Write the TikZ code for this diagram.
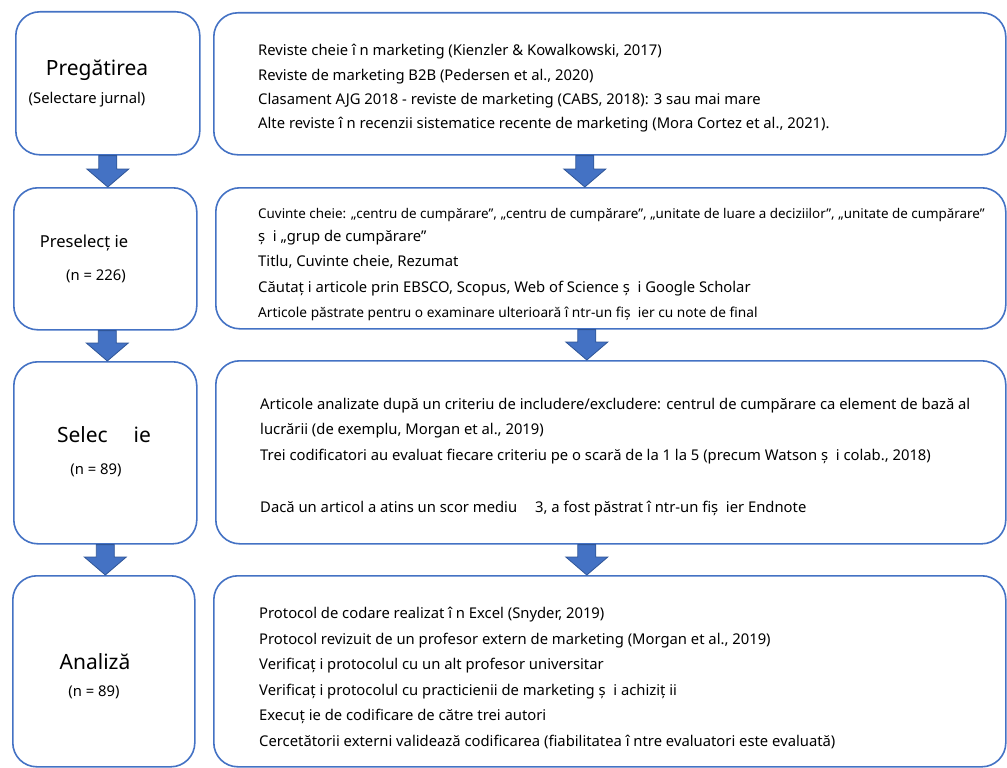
\documentclass[tikz,border=0pt]{standalone}
\usepackage{fontspec}
\setmainfont{Noto Sans}
\usetikzlibrary{calc}
\definecolor{boxblue}{HTML}{4472C4}
\definecolor{arrowline}{HTML}{2F5597}
\begin{document}
\begin{tikzpicture}[x=1pt,y=-1pt,
  box/.style={draw=boxblue, line width=1.6pt, rounded corners=24pt, fill=white, anchor=north west, inner sep=0pt},
  rtext/.style={anchor=west, align=left, inner sep=0pt, text=black},
  ltext/.style={inner sep=0pt, text=black},
  blockarrow/.style={draw=arrowline, fill=boxblue, line width=0.8pt,
    to path={let \p1=(\tikztostart), \p2=(\tikztotarget) in
      (\x1-9pt,\y1) -- (\x1+9pt,\y1) -- (\x1+9pt,\y2+18pt) -- (\x1+21pt,\y2+18pt)
      -- (\x1,\y2) -- (\x1-21pt,\y2+18pt) -- (\x1-9pt,\y2+18pt) -- cycle}}
]
\useasboundingbox (0,0) rectangle (1007,768);

% left boxes
\node[box, minimum width=184pt, minimum height=143pt] (L1) at (15,11) {};
\node[box, minimum width=183pt, minimum height=142pt] (L2) at (13,187) {};
\node[box, minimum width=183pt, minimum height=182pt] (L3) at (13,361) {};
\node[box, minimum width=182pt, minimum height=191pt] (L4) at (12,575) {};
% right boxes
\node[box, minimum width=792pt, minimum height=142pt] (R1) at (213,12) {};
\node[box, minimum width=790pt, minimum height=141pt] (R2) at (215,187) {};
\node[box, minimum width=790pt, minimum height=183pt] (R3) at (215,360) {};
\node[box, minimum width=792pt, minimum height=191pt] (R4) at (213,575) {};

% arrows
\draw[blockarrow] (L1.south) to (L2.north);
\draw[blockarrow] ([xshift=2pt]L2.south) to ([xshift=2pt]L3.north);
\draw[blockarrow] (L3.south) to (L4.north);
\draw[blockarrow] ([xshift=-25pt]R1.south) to ([xshift=-25pt]R2.north);
\draw[blockarrow] ([xshift=-24pt]R2.south) to ([xshift=-24pt]R3.north);
\draw[blockarrow] ([xshift=-24pt]R3.south) to ([xshift=-24pt]R4.north);

% left texts
\node[ltext, font=\fontsize{21}{24}\selectfont] (P1) at (97,70) {Pregătirea};
\node[ltext, font=\fontsize{14.8}{17}\selectfont] (P1n) at (87,100) {(Selectare jurnal)};
\node[ltext, font=\fontsize{16.5}{19}\selectfont] (P2) at (84,243) {Preselecț ie};
\node[ltext, font=\fontsize{14.8}{17}\selectfont] (P2n) at (96,276) {(n = 226)};
\node[ltext, font=\fontsize{21}{24}\selectfont] (P3) at (104,435) {Selec\hspace{26pt}ie};
\node[ltext, font=\fontsize{14.8}{17}\selectfont] (P3n) at (96,470) {(n = 89)};
\node[ltext, font=\fontsize{21}{24}\selectfont] (P4) at (95,662) {Analiză};
\node[ltext, font=\fontsize{14.8}{17}\selectfont] (P4n) at (94,692) {(n = 89)};

% right texts
\node[rtext, font=\fontsize{14.8}{24.3}\selectfont] (T1) at (258,88.5) {Reviste cheie î n marketing (Kienzler \& Kowalkowski, 2017)\\
Reviste de marketing B2B (Pedersen et al., 2020)\\
Clasament AJG 2018 - reviste de marketing (CABS, 2018): 3 sau mai mare\\
Alte reviste î n recenzii sistematice recente de marketing (Mora Cortez et al., 2021).};

\node[rtext, font=\fontsize{14.8}{25.5}\selectfont] (T2) at (258,265) {{\fontsize{13.4}{15}\selectfont Cuvinte cheie: „centru de cumpărare”, „centru de cumpărare”, „unitate de luare a deciziilor”, „unitate de cumpărare”}\\[-3pt]
ș\ \ i „grup de cumpărare”\\
Titlu, Cuvinte cheie, Rezumat\\
Căutaț i articole prin EBSCO, Scopus, Web of Science ș\ \ i Google Scholar\\
{\fontsize{13.7}{15}\selectfont Articole păstrate pentru o examinare ulterioară î ntr-un fiș\ \ ier cu note de final}};

\node[rtext, font=\fontsize{14.8}{25.5}\selectfont] (T3) at (260,457) {Articole analizate după un criteriu de includere/excludere: centrul de cumpărare ca element de bază al\\
lucrării (de exemplu, Morgan et al., 2019)\\
Trei codificatori au evaluat fiecare criteriu pe o scară de la 1 la 5 (precum Watson ș\ \ i colab., 2018)\\[27pt]
Dacă un articol a atins un scor mediu\hspace{18pt}3, a fost păstrat î ntr-un fiș\ \ ier Endnote};

\node[rtext, font=\fontsize{14.8}{25.6}\selectfont] (T4) at (259,678) {Protocol de codare realizat î n Excel (Snyder, 2019)\\
Protocol revizuit de un profesor extern de marketing (Morgan et al., 2019)\\
Verificaț i protocolul cu un alt profesor universitar\\
Verificaț i protocolul cu practicienii de marketing ș\ \ i achiziț ii\\
Execuț ie de codificare de către trei autori\\
Cercetătorii externi validează codificarea (fiabilitatea î ntre evaluatori este evaluată)};
\end{tikzpicture}
\end{document}
